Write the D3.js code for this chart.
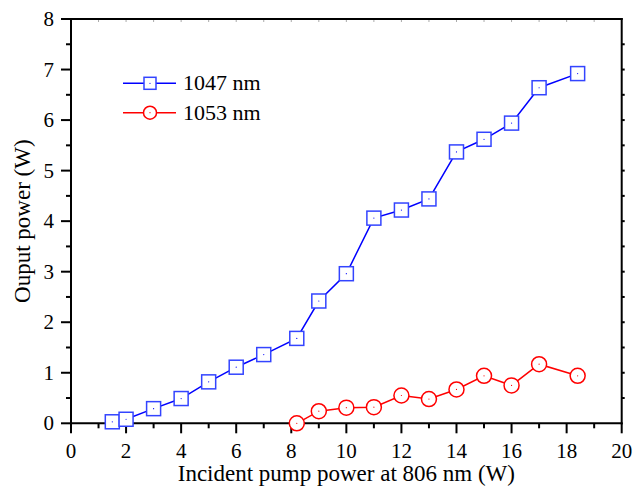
<!DOCTYPE html>
<html><head><meta charset="utf-8">
<script src="https://cdn.jsdelivr.net/npm/d3@7"></script>
<style>body{margin:0;background:#fff}svg{display:block}</style>
</head><body>
<svg id="c" width="636" height="489"></svg>
<script>
const pump1047 = [1.5, 2, 3, 4, 5, 6, 7, 8.2, 9, 10, 11, 12, 13, 14, 15, 16, 17, 18.4];
const out1047  = [0.03, 0.08, 0.29, 0.49, 0.82, 1.11, 1.36, 1.68, 2.42, 2.96, 4.06, 4.22, 4.44, 5.37, 5.62, 5.94, 6.64, 6.92];
const pump1053 = [8.2, 9, 10, 11, 12, 13, 14, 15, 16, 17, 18.4];
const out1053  = [0.0, 0.24, 0.31, 0.32, 0.55, 0.48, 0.67, 0.94, 0.75, 1.17, 0.94];
const xTicks = [0, 2, 4, 6, 8, 10, 12, 14, 16, 18, 20];
const yTicks = [0, 1, 2, 3, 4, 5, 6, 7, 8];
const seriesNames = ["1047 nm", "1053 nm"];
const xTitle = "Incident pump power at 806 nm (W)";
const yTitle = "Ouput power (W)";

const svg = d3.select("#c");
const L = 71, R = 621.7, T = 19, B = 423.3;
const x = d3.scaleLinear().domain([0, 20]).range([L, R]);
const y = d3.scaleLinear().domain([0, 8]).range([B, T]);
const font = "'Liberation Serif', 'Times New Roman', serif";

// top inner faint ticks
svg.append("g").selectAll("line").data(d3.range(1, 20)).join("line")
  .attr("x1", d => x(d)).attr("x2", d => x(d)).attr("y1", T).attr("y2", T + 3)
  .attr("stroke", "#aaa").attr("stroke-width", 1);

// frame lines
const ax = svg.append("g").attr("stroke", "#000").attr("stroke-width", 2).attr("fill", "none");
ax.append("line").attr("x1", L).attr("x2", R + 1).attr("y1", T).attr("y2", T);
ax.append("line").attr("x1", L).attr("x2", R + 1).attr("y1", B).attr("y2", B);
ax.append("line").attr("x1", L).attr("x2", L).attr("y1", T).attr("y2", B + 1);
ax.append("line").attr("x1", R).attr("x2", R).attr("y1", T - 1).attr("y2", B + 1);

// bottom ticks
const xMinor = d3.range(1, 20, 2);
ax.selectAll(".xt").data(xTicks).join("line").attr("class", "xt")
  .attr("x1", d => x(d)).attr("x2", d => x(d)).attr("y1", B).attr("y2", B + 10);
ax.selectAll(".xm").data(xMinor).join("line").attr("class", "xm")
  .attr("x1", d => x(d)).attr("x2", d => x(d)).attr("y1", B).attr("y2", B + 5);
// left ticks
const yMinor = d3.range(0.5, 8, 1);
ax.selectAll(".yt").data(yTicks).join("line").attr("class", "yt")
  .attr("x1", L - 10).attr("x2", L).attr("y1", d => y(d)).attr("y2", d => y(d));
ax.selectAll(".ym").data(yMinor).join("line").attr("class", "ym")
  .attr("x1", L - 5).attr("x2", L).attr("y1", d => y(d)).attr("y2", d => y(d));
// right ticks
ax.selectAll(".rt").data(d3.range(0.5, 8, 0.5)).join("line").attr("class", "rt")
  .attr("x1", R).attr("x2", R + 3).attr("y1", d => y(d)).attr("y2", d => y(d));

// tick labels
svg.append("g").selectAll("text").data(xTicks).join("text")
  .attr("x", d => x(d)).attr("y", 458).attr("text-anchor", "middle")
  .attr("font-family", font).attr("font-size", 21).text(d => d);
svg.append("g").selectAll("text").data(yTicks).join("text")
  .attr("x", 54).attr("y", d => y(d) + 7).attr("text-anchor", "end")
  .attr("font-family", font).attr("font-size", 21).text(d => d);

// titles
svg.append("text").attr("x", (L + R) / 2).attr("y", 481).attr("text-anchor", "middle")
  .attr("font-family", font).attr("font-size", 23).text(xTitle);
svg.append("text").attr("transform", `translate(30,${(T + B) / 2}) rotate(-90)`)
  .attr("text-anchor", "middle").attr("font-family", font).attr("font-size", 23).text(yTitle);

const line = d3.line().x(d => x(d[0])).y(d => y(d[1]));
const d1 = pump1047.map((p, i) => [p, out1047[i]]);
const d2 = pump1053.map((p, i) => [p, out1053[i]]);

svg.append("path").datum(d1).attr("d", line).attr("fill", "none").attr("stroke", "#0000ff").attr("stroke-width", 1.5);
svg.append("path").datum(d2).attr("d", line).attr("fill", "none").attr("stroke", "#ff0000").attr("stroke-width", 1.5);

const S = 14;
svg.append("g").selectAll("rect").data(d1).join("rect")
  .attr("x", d => x(d[0]) - S / 2).attr("y", d => y(d[1]) - S / 2)
  .attr("width", S).attr("height", S).attr("fill", "#fff")
  .attr("stroke", "#3344ff").attr("stroke-width", 1.5);
svg.append("g").selectAll("circle.c").data(d1).join("circle")
  .attr("cx", d => x(d[0])).attr("cy", d => y(d[1])).attr("r", 0.6).attr("fill", "#0000ff");

svg.append("g").selectAll("circle.o").data(d2).join("circle")
  .attr("cx", d => x(d[0])).attr("cy", d => y(d[1])).attr("r", 7.5)
  .attr("fill", "#fff").attr("stroke", "#ff0000").attr("stroke-width", 1.5);
svg.append("g").selectAll("circle.d").data(d2).join("circle")
  .attr("cx", d => x(d[0])).attr("cy", d => y(d[1])).attr("r", 0.6).attr("fill", "#ff0000");

// legend
const lg = svg.append("g");
const legY = [83.3, 112.7], cols = ["#0000ff", "#ff0000"];
seriesNames.forEach((n, i) => {
  lg.append("line").attr("x1", 123).attr("x2", 176).attr("y1", legY[i]).attr("y2", legY[i])
    .attr("stroke", cols[i]).attr("stroke-width", 1.5);
  if (i === 0) {
    lg.append("rect").attr("x", 150 - 6).attr("y", legY[i] - 6).attr("width", 12).attr("height", 12)
      .attr("fill", "#fff").attr("stroke", "#3344ff").attr("stroke-width", 1.5);
  } else {
    lg.append("circle").attr("cx", 150).attr("cy", legY[i]).attr("r", 6.5)
      .attr("fill", "#fff").attr("stroke", "#ff0000").attr("stroke-width", 1.5);
  }
  lg.append("circle").attr("cx", 150).attr("cy", legY[i]).attr("r", 0.6).attr("fill", cols[i]);
  lg.append("text").attr("x", 183).attr("y", legY[i] + 7).attr("font-family", font)
    .attr("font-size", 22).text(n);
});
</script>
</body></html>
